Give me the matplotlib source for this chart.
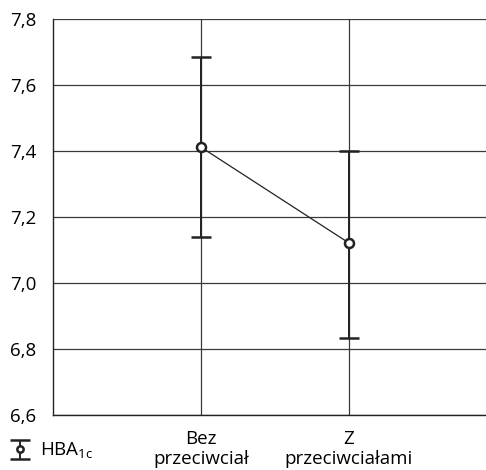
import matplotlib
matplotlib.use("Agg")
import matplotlib.pyplot as plt

plt.rcParams['font.family'] = ['Open Sans', 'DejaVu Sans']

categories = ["Bez\nprzeciwciał", "Z\nprzeciwciałami"]
means = [7.412, 7.122]
upper = [7.685, 7.400]
lower = [7.139, 6.833]
yticks = [6.6, 6.8, 7.0, 7.2, 7.4, 7.6, 7.8]
ytick_labels = ["6,6", "6,8", "7,0", "7,2", "7,4", "7,6", "7,8"]

fig = plt.figure(figsize=(4.86, 4.70), dpi=100)
ax = fig.add_axes([53 / 486, 55 / 470, 1 - 53 / 486, 396 / 470])

x = [1, 2]
err_lo = [m - l for m, l in zip(means, lower)]
err_hi = [u - m for m, u in zip(means, upper)]

for yv in yticks:
    ax.axhline(yv, color="#3a3a3a", lw=0.9, zorder=0)
for xv in x:
    ax.axvline(xv, color="#3a3a3a", lw=0.9, zorder=0)

ax.plot(x, means, color="#222222", lw=0.9, zorder=2)
eb = ax.errorbar(x, means, yerr=[err_lo, err_hi], fmt="o", color="#222222",
                 mfc="white", mec="#222222", mew=1.8, ms=6.5,
                 ecolor="#222222", elinewidth=1.4, capsize=7, capthick=1.8,
                 zorder=3)

ax.set_ylim(6.6, 7.8)
ax.set_xlim(0, 2.93)
ax.set_yticks(yticks)
ax.set_yticklabels(ytick_labels, fontsize=13.5)
ax.set_xticks(x)
ax.set_xticklabels(categories, fontsize=13.5, linespacing=1.1)
ax.tick_params(length=0)
ax.tick_params(axis="x", pad=11)
ax.tick_params(axis="y", pad=12)
for s in ["top", "right"]:
    ax.spines[s].set_visible(False)
for s in ["left", "bottom"]:
    ax.spines[s].set_color("#222222")
    ax.spines[s].set_linewidth(1.0)

fig.legend([eb], ["HBA$_{\\mathregular{1c}}$"], loc="lower left",
           bbox_to_anchor=(0.005, -0.005), frameon=False, fontsize=13.5,
           handlelength=0.7, handletextpad=0.7, borderaxespad=0.2,
           markerscale=0.7)

fig.savefig("out.png", dpi=100)
